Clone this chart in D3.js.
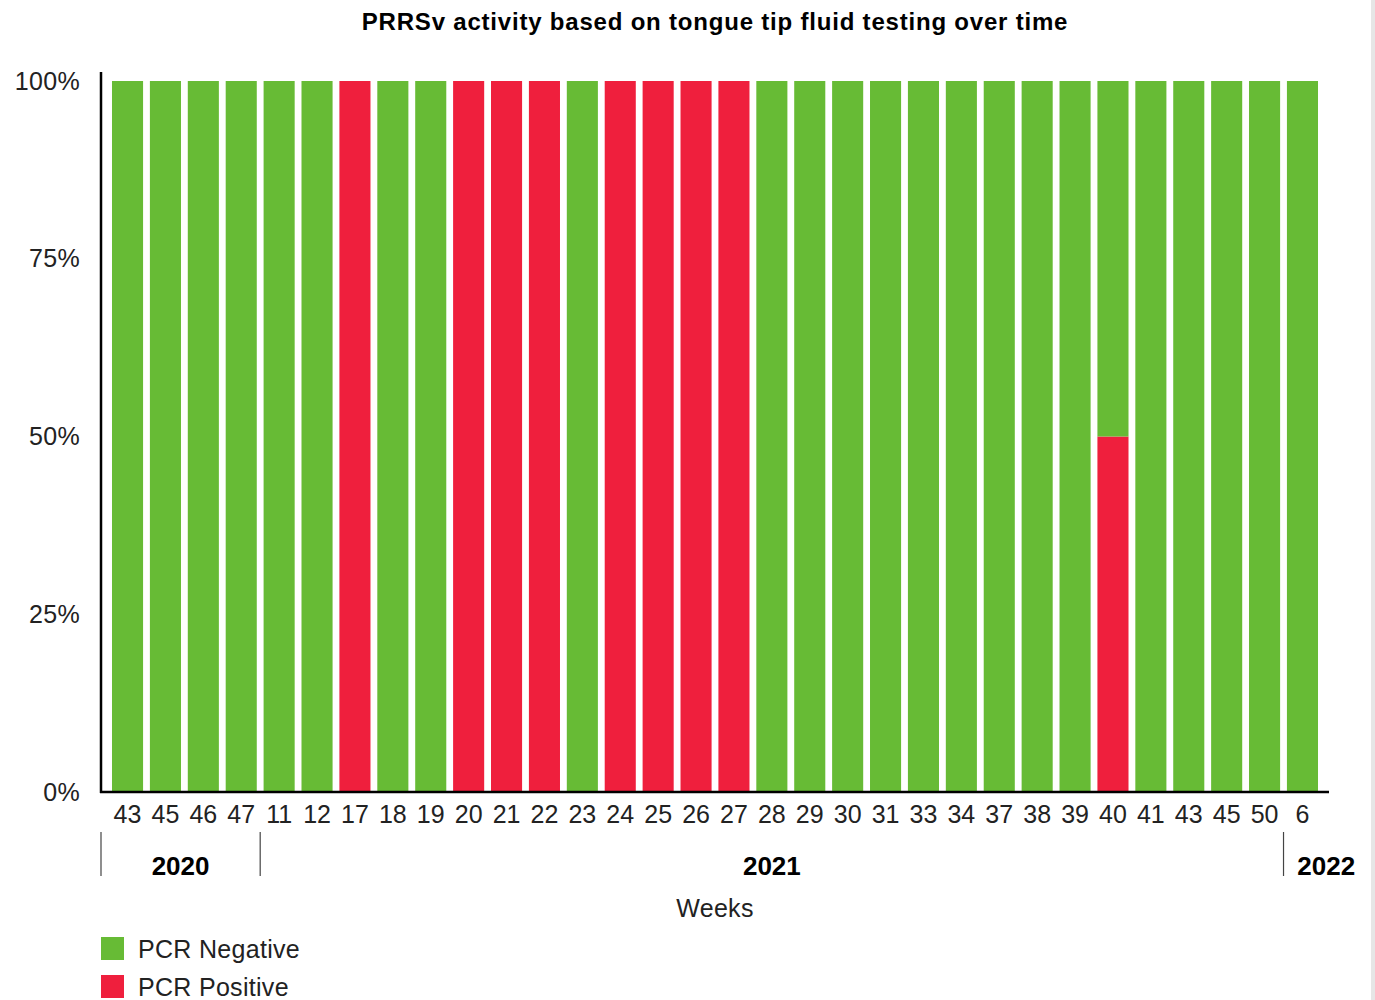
<!DOCTYPE html>
<html>
<head>
<meta charset="utf-8">
<script src="https://cdn.jsdelivr.net/npm/d3@7"></script>
<style>
  body { margin: 0; background: #fff; }
  svg { display: block; font-family: "Liberation Sans", Arial, sans-serif; }
</style>
</head>
<body>
<svg width="1375" height="1000"></svg>
<script>
// week labels, in order
var weeks = ["43", "45", "46", "47", "11", "12", "17", "18", "19", "20", "21", "22", "23", "24", "25", "26",
  "27", "28", "29", "30", "31", "33", "34", "37", "38", "39", "40", "41", "43", "45", "50", "6"];
// year of each week
var years = ["2020", "2020", "2020", "2020", "2021", "2021", "2021", "2021", "2021", "2021", "2021", "2021",
  "2021", "2021", "2021", "2021", "2021", "2021", "2021", "2021", "2021", "2021", "2021", "2021", "2021",
  "2021", "2021", "2021", "2021", "2021", "2021", "2022"];
// percent of samples
var pcrPositive = [0, 0, 0, 0, 0, 0, 100, 0, 0, 100, 100, 100, 0, 100, 100, 100,
  100, 0, 0, 0, 0, 0, 0, 0, 0, 0, 50, 0, 0, 0, 0, 0];
var pcrNegative = [100, 100, 100, 100, 100, 100, 0, 100, 100, 0, 0, 0, 100, 0, 0, 0,
  0, 100, 100, 100, 100, 100, 100, 100, 100, 100, 50, 100, 100, 100, 100, 100];
var yTicks = [0, 25, 50, 75, 100];

var green = "#67bb35";
var red = "#ef1f3d";

var svg = d3.select("svg");

// scrollbar-ish strip at the right edge
svg.append("rect").attr("x", 1371).attr("y", 0).attr("width", 4).attr("height", 1000).attr("fill", "#e6e6e6");

var idx = d3.range(weeks.length);

var x = d3.scaleBand()
  .domain(idx)
  .range([101, 1329])
  .paddingInner(0.18)
  .paddingOuter(0.29);

var y = d3.scaleLinear()
  .domain([0, 100])
  .range([792, 81]);

svg.append("text")
  .attr("x", 715)
  .attr("y", 30)
  .attr("text-anchor", "middle")
  .attr("font-size", 24)
  .attr("letter-spacing", 0.8)
  .attr("font-weight", "bold")
  .text("PRRSv activity based on tongue tip fluid testing over time");

// stacked bars: positive on bottom, negative on top
var stacked = idx.map(function(i) {
  return { i: i, pos: pcrPositive[i], neg: pcrNegative[i] };
});

var bars = svg.append("g");
bars.selectAll(".pos")
  .data(stacked)
  .enter().append("rect")
  .attr("class", "pos")
  .attr("x", function(d) { return x(d.i); })
  .attr("width", x.bandwidth())
  .attr("y", function(d) { return y(d.pos); })
  .attr("height", function(d) { return y(0) - y(d.pos); })
  .attr("fill", red);

bars.selectAll(".neg")
  .data(stacked)
  .enter().append("rect")
  .attr("class", "neg")
  .attr("x", function(d) { return x(d.i); })
  .attr("width", x.bandwidth())
  .attr("y", function(d) { return y(d.pos + d.neg); })
  .attr("height", function(d) { return y(d.pos) - y(d.pos + d.neg); })
  .attr("fill", green);

// y axis
var yAxis = svg.append("g")
  .attr("transform", "translate(101,0)")
  .call(d3.axisLeft(y).tickValues(yTicks).tickSize(0).tickPadding(21)
    .tickFormat(function(d) { return d + "%"; }));
yAxis.select(".domain").remove();
yAxis.selectAll("text")
  .attr("font-size", 25)
  .attr("letter-spacing", 0.3)
  .attr("fill", "#222")
  .attr("font-family", "Liberation Sans, Arial, sans-serif");

svg.append("line")
  .attr("x1", 101).attr("x2", 101)
  .attr("y1", 72).attr("y2", 793)
  .attr("stroke", "#000").attr("stroke-width", 2.5);

// x axis
var xAxis = svg.append("g")
  .attr("transform", "translate(0,792)")
  .call(d3.axisBottom(x).tickSize(0).tickPadding(13)
    .tickFormat(function(i) { return weeks[i]; }));
xAxis.select(".domain").remove();
xAxis.selectAll("text")
  .attr("font-size", 25)
  .attr("fill", "#222")
  .attr("font-family", "Liberation Sans, Arial, sans-serif");

svg.append("line")
  .attr("x1", 100).attr("x2", 1329)
  .attr("y1", 792).attr("y2", 792)
  .attr("stroke", "#000").attr("stroke-width", 2.5);

// year groups
var groups = [];
years.forEach(function(yr, i) {
  var last = groups[groups.length - 1];
  if (!last || last.year !== yr) groups.push({ year: yr, first: i, last: i });
  else last.last = i;
});
var half = x.step() * x.paddingInner() / 2;
groups.forEach(function(g, k) {
  g.x0 = k === 0 ? 101 : x(g.first) - half;
  g.x1 = k === groups.length - 1 ? 1369 : x(g.last) + x.bandwidth() + half;
});

var yearG = svg.append("g");
yearG.selectAll("line")
  .data(groups)
  .enter().append("line")
  .attr("x1", function(d) { return d.x0; })
  .attr("x2", function(d) { return d.x0; })
  .attr("y1", 832).attr("y2", 876)
  .attr("stroke", "#444").attr("stroke-width", 1.2);

yearG.selectAll("text")
  .data(groups)
  .enter().append("text")
  .attr("x", function(d) { return (d.x0 + d.x1) / 2; })
  .attr("y", 875)
  .attr("text-anchor", "middle")
  .attr("font-size", 26)
  .attr("font-weight", "bold")
  .text(function(d) { return d.year; });

svg.append("text")
  .attr("x", 715)
  .attr("y", 917)
  .attr("text-anchor", "middle")
  .attr("font-size", 25)
  .attr("letter-spacing", 0.3)
  .attr("fill", "#222")
  .text("Weeks");

// legend
var legendItems = [{ label: "PCR Negative", color: green }, { label: "PCR Positive", color: red }];
var legend = svg.append("g").attr("transform", "translate(101,937)");
var li = legend.selectAll("g")
  .data(legendItems)
  .enter().append("g")
  .attr("transform", function(d, i) { return "translate(0," + (i * 38) + ")"; });
li.append("rect")
  .attr("width", 23).attr("height", 23)
  .attr("fill", function(d) { return d.color; });
li.append("text")
  .attr("x", 37).attr("y", 21)
  .attr("font-size", 25)
  .attr("letter-spacing", 0.3)
  .attr("fill", "#222")
  .text(function(d) { return d.label; });
</script>
</body>
</html>
